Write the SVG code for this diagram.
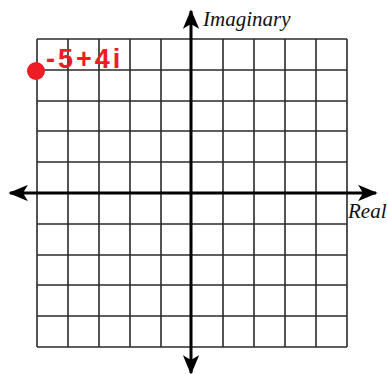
<svg xmlns="http://www.w3.org/2000/svg" width="387" height="374" viewBox="0 0 387 374">
<style>
.grid line{stroke:#2a2a2a;stroke-width:1.6}
.axis{stroke:#000;stroke-width:3;fill:none}
.lbl{font-family:"Liberation Serif",serif;font-style:italic;font-size:21px;fill:#111}
</style>
<defs>
<marker id="ah" viewBox="0 0 12 10" refX="11" refY="5" markerWidth="6.5" markerHeight="5.5" orient="auto-start-reverse" markerUnits="strokeWidth">
<path d="M0,0 L12,5 L0,10 L3,5 Z" fill="#000"/>
</marker>
</defs>
<rect width="387" height="374" fill="#fff"/>
<g id="grid" class="grid">
<line x1="37" y1="39" x2="37" y2="347"/>
<line x1="68" y1="39" x2="68" y2="347"/>
<line x1="99" y1="39" x2="99" y2="347"/>
<line x1="130" y1="39" x2="130" y2="347"/>
<line x1="161" y1="39" x2="161" y2="347"/>
<line x1="223" y1="39" x2="223" y2="347"/>
<line x1="254" y1="39" x2="254" y2="347"/>
<line x1="285" y1="39" x2="285" y2="347"/>
<line x1="316" y1="39" x2="316" y2="347"/>
<line x1="347" y1="39" x2="347" y2="347"/>
<line x1="37" y1="39" x2="347" y2="39"/>
<line x1="37" y1="70" x2="347" y2="70"/>
<line x1="37" y1="101" x2="347" y2="101"/>
<line x1="37" y1="131" x2="347" y2="131"/>
<line x1="37" y1="162" x2="347" y2="162"/>
<line x1="37" y1="224" x2="347" y2="224"/>
<line x1="37" y1="255" x2="347" y2="255"/>
<line x1="37" y1="285" x2="347" y2="285"/>
<line x1="37" y1="316" x2="347" y2="316"/>
<line x1="37" y1="347" x2="347" y2="347"/>
</g>
<g id="axes">
<line class="axis" x1="10" y1="193" x2="376" y2="193" marker-start="url(#ah)" marker-end="url(#ah)"/>
<line class="axis" x1="191" y1="11" x2="191" y2="373" marker-start="url(#ah)" marker-end="url(#ah)"/>
</g>
<g id="labels">
<text class="lbl" x="203" y="26">Imaginary</text>
<text class="lbl" x="348" y="218">Real</text>
</g>
<g id="point">
<circle cx="36" cy="71" r="9" fill="#ee1c24"/>
<text x="46" y="68" font-family="'Liberation Sans',sans-serif" font-weight="bold" font-size="27" letter-spacing="3" fill="#ee1c24">-5+4i</text>
</g>
</svg>
